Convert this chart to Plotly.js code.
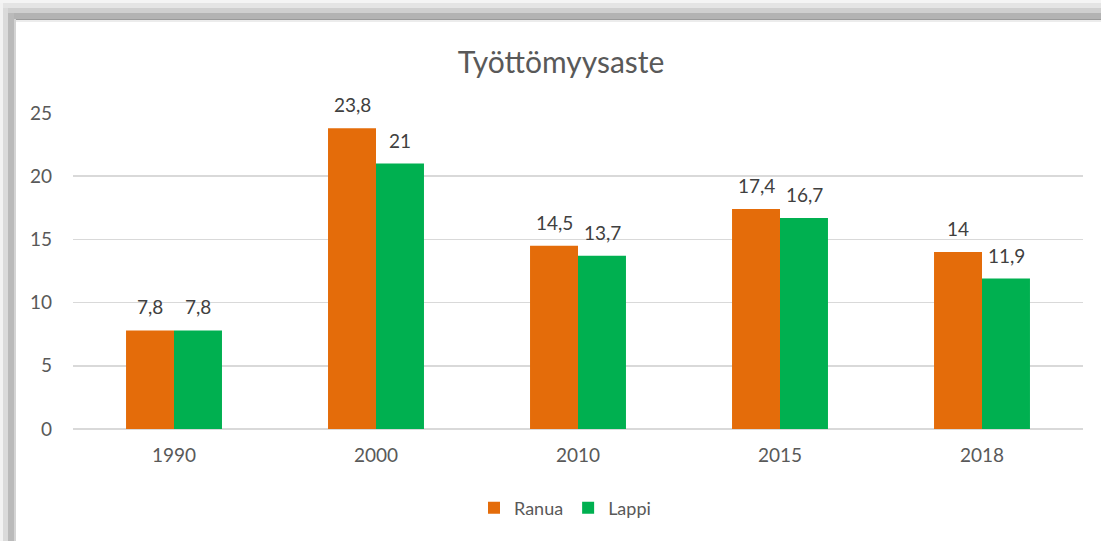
<!DOCTYPE html>
<html><head><meta charset="utf-8">
<script src="https://cdn.plot.ly/plotly-3.0.1.min.js"></script>
<style>html,body{margin:0;padding:0;background:#fff;}#chart{width:1101px;height:541px;}</style>
</head><body><div id="chart"></div>
<script>
const categories = ['1990','2000','2010','2015','2018'];
const ranua = [7.8, 23.8, 14.5, 17.4, 14];
const lappi = [7.8, 21, 13.7, 16.7, 11.9];
const seriesNames = ['Ranua','Lappi'];
const colors = ['#E46C0A','#00B050'];
const fmt = v => String(v).replace('.', ',');

const W=1101,H=541,L=73,R=18,T=113,B=112;
const pw=W-L-R, ph=H-T-B;
const px=x=>(x-L)/pw, py=y=>1-(y-T)/ph;

const traces=[ranua,lappi].map((vals,i)=>({
  type:'bar', x:categories, y:vals, name:seriesNames[i],
  marker:{color:colors[i]}, hoverinfo:'skip'
}));

const annotations=[];
[ranua,lappi].forEach((vals,i)=>{
  vals.forEach((v,j)=>{
    annotations.push({x:j, y:v, xref:'x', yref:'y', text:fmt(v),
      showarrow:false, xshift:(i===0?-24:24), yanchor:'bottom', yshift:10,
      font:{family:'Lato, "Open Sans", sans-serif', size:19, color:'#404040'}});
  });
});

// frame decoration (shadow border)
const shapes=[];
const band=(y0,y1,c)=>shapes.push({type:'rect',xref:'paper',yref:'paper',x0:px(0),x1:px(W),y0:py(y1),y1:py(y0),fillcolor:c,line:{width:0},layer:'above'});
const vband=(x0,x1,y0,c)=>shapes.push({type:'rect',xref:'paper',yref:'paper',x0:px(x0),x1:px(x1),y0:py(H),y1:py(y0),fillcolor:c,line:{width:0},layer:'above'});
band(0,3,'#f4f4f4'); band(3,8,'#e4e4e4'); band(8,13,'#cfcfcf'); band(13,19,'#b3b3b3'); band(19,20,'#9a9a9a'); band(20,22,'#ececec');
vband(0,3,3,'#f2f2f2'); vband(3,8,8,'#dadada'); vband(8,14,13,'#bababa'); vband(14,16,19,'#d4d4d4');

const layout={
  width:W,height:H,
  margin:{l:L,r:R,t:T,b:B,pad:0},
  paper_bgcolor:'#fff',plot_bgcolor:'#fff',
  font:{family:'Lato, "Open Sans", sans-serif', color:'#595959', size:16},
  title:{text:'Työttömyysaste', x:561/W, xref:'container', xanchor:'center', y:1-62/H, yref:'container', yanchor:'middle',
    font:{family:'Lato, "Open Sans", sans-serif', size:30, color:'#595959'}},
  barmode:'group', bargap:0.525, bargroupgap:0,
  xaxis:{type:'category', range:[-0.5,4.5], autorange:false, showgrid:false, zeroline:false, showline:false, ticks:'', ticklen:0,
    tickfont:{size:19,color:'#595959'}, ticklabelstandoff:13, automargin:false},
  yaxis:{range:[0,25], autorange:false, dtick:5, tick0:0, showgrid:true, gridcolor:'#d9d9d9', gridwidth:1.5,
    zeroline:true, zerolinecolor:'#d9d9d9', zerolinewidth:2, showline:false, ticks:'',
    tickfont:{size:19,color:'#595959'}, ticklabelstandoff:20, automargin:false, fixedrange:true},
  showlegend:true,
  legend:{orientation:'h', x:565/W, xref:'container', xanchor:'center', y:1-508/H, yref:'container', yanchor:'middle',
    font:{size:18,color:'#595959'}, itemwidth:30, traceorder:'normal'},
  annotations:annotations, shapes:shapes
};
Plotly.newPlot('chart',traces,layout,{staticPlot:true,displayModeBar:false});
</script></body></html>
